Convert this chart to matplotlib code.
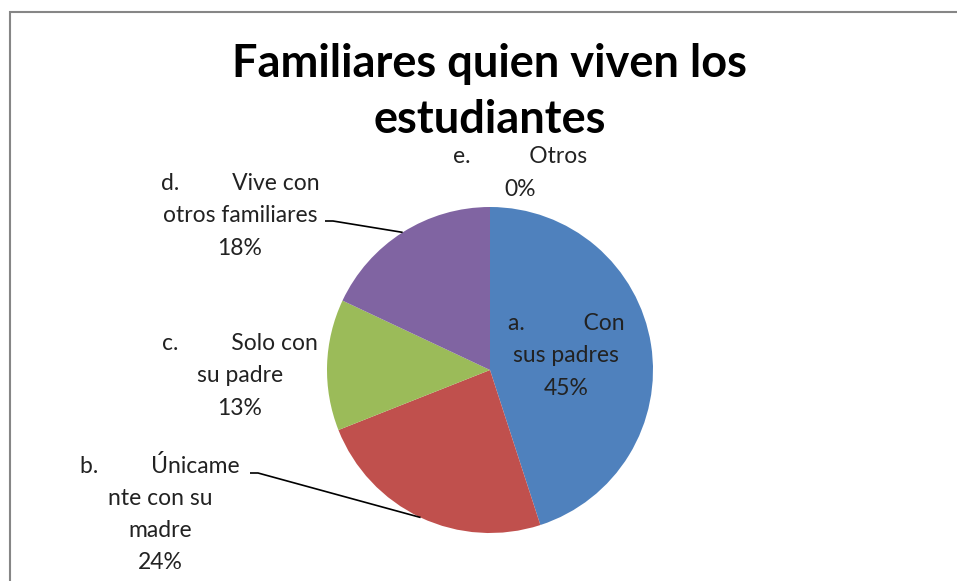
import numpy as np
import matplotlib.pyplot as plt
from matplotlib.patches import Rectangle

plt.rcParams['font.family'] = ['Lato', 'DejaVu Sans']

# data
categories = ["a.          Con\nsus padres", "b.         Únicame\nnte con su\nmadre",
              "c.         Solo con\nsu padre", "d.         Vive con\notros familiares",
              "e.          Otros"]
values = [45, 24, 13, 18, 0]
colors = ["#4F81BD", "#C0504D", "#9BBB59", "#8064A2", "#F79646"]
title = "Familiares quien viven los\nestudiantes"

W, H = 957, 581
fig = plt.figure(figsize=(W / 100, H / 100), dpi=100)
ax = fig.add_axes([0, 0, 1, 1])
ax.set_xlim(0, W)
ax.set_ylim(0, H)
ax.set_aspect("equal")
ax.set_axis_off()

# chart frame (pixel coords, y measured from top)
ax.add_patch(Rectangle((9.5, -10), W + 20, H - 12 + 10, fill=False,
                       edgecolor="#868686", linewidth=1.5))

cx, cy, r = 490, H - 370, 163
wedges, _ = ax.pie(values, colors=colors, startangle=90, counterclock=False,
                   center=(cx, cy), radius=r, frame=True)
ax.set_xlim(0, W)
ax.set_ylim(0, H)
ax.set_axis_off()

fig.text(490 / W, 1 - 92 / H, title, ha="center", va="center",
         fontsize=32.5, fontweight="bold", linespacing=1.4)

# label positions (pixel, from top) and whether a leader line is drawn
label_pos = [(566, 356), (160, 514), (240, 376), (240, 216), (520, 173)]
leader = [False, True, False, True, False]
leader_start = [None, (250, 473), None, (325, 221), None]

for i, (lab, v) in enumerate(zip(categories, values)):
    x, y = label_pos[i]
    ax.text(x, H - y, f"{lab}\n{v}%", ha="center", va="center",
            fontsize=16.5, color="#222222", linespacing=1.65)
    if leader[i]:
        w = wedges[i]
        mid = np.deg2rad((w.theta1 + w.theta2) / 2)
        ex, ey = cx + r * np.cos(mid), cy + r * np.sin(mid)
        sx, sy = leader_start[i]
        ax.plot([sx, sx + 8, ex], [H - sy, H - sy, ey], color="black", lw=1.2,
                solid_capstyle="butt")

fig.savefig("out.png", dpi=100, facecolor="white")
